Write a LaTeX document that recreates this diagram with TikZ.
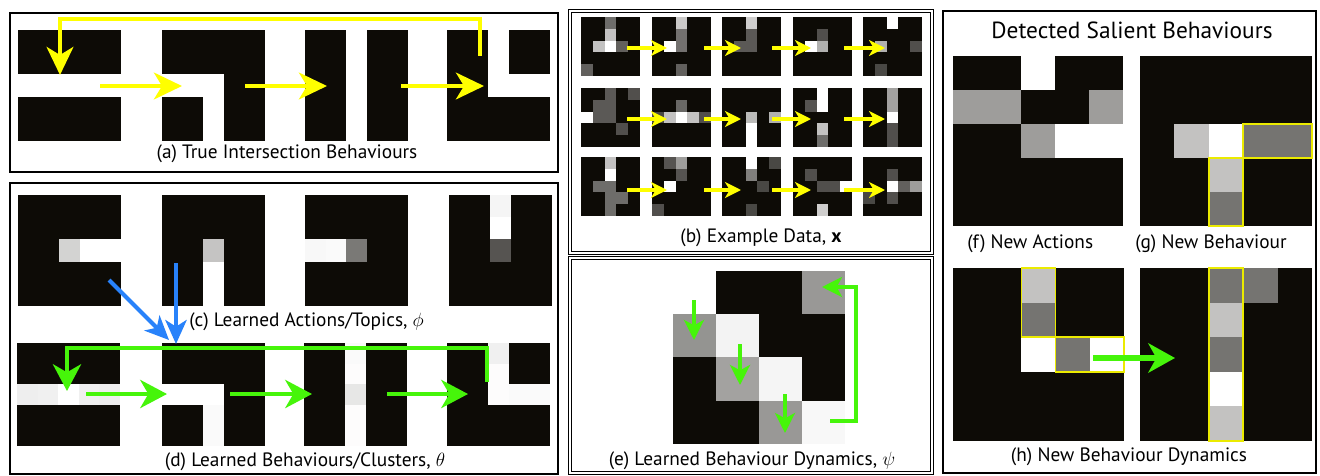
\documentclass[tikz,border=0pt]{standalone}
\usepackage{fontspec}
\setmainfont{PT Sans}
\usetikzlibrary{arrows.meta}
\definecolor{pixblack}{RGB}{13,11,6}
\definecolor{ylw}{RGB}{255,255,0}
\definecolor{grn}{RGB}{70,245,10}
\definecolor{blu}{RGB}{40,130,250}
\definecolor{yb}{RGB}{235,235,0}
% #1 x0, #2 y0, #3 cell w, #4 cell h, #5 cols, #6 rows, #7 list col/row/percent-white
\newcommand{\pixgrid}[7]{%
  \fill[pixblack] (#1,#2) rectangle ++({#5*#3},{#6*#4});
  \foreach \c/\r/\g in {#7}{\fill[white!\g!pixblack] ({#1+\c*#3},{#2+\r*#4}) rectangle ++(#3,#4);}
}
\begin{document}
\begin{tikzpicture}[x=0.75pt,y=-0.75pt,
  panel/.style={draw=black,line width=1.6pt},
  dpanel/.style={draw=black,double=white,double distance=1.3pt,line width=0.8pt},
  capt/.style={font=\fontsize{14.5}{17}\selectfont,inner sep=0pt},
  ttl/.style={font=\fontsize{17.5}{20}\selectfont,inner sep=0pt},
  yloop/.style={draw=ylw,line width=3.2pt,-{Stealth[length=21pt,width=20pt,inset=6pt]}},
  ysmall/.style={draw=ylw,line width=2.6pt,-{Stealth[length=12pt,width=12pt,inset=3.5pt]}},
  gbig/.style={draw=grn,line width=3.6pt,-{Stealth[length=20pt,width=21pt,inset=6pt]}},
  gmid/.style={draw=grn,line width=2.6pt,-{Stealth[length=15pt,width=15pt,inset=4pt]}},
  barrow/.style={draw=blu,line width=3pt,-{Stealth[length=18pt,width=16pt,inset=5pt]}},
  ybox/.style={draw=yb,line width=1.2pt}]
\fill[white] (0,0) rectangle (1320,475);
\useasboundingbox (0,0) rectangle (1320,475);

% ---------- panel frames ----------
\draw[panel] (10,13) rectangle (558,172);
\draw[panel] (10,183) rectangle (558,474);
\draw[dpanel] (570,11) rectangle (932,253);
\draw[dpanel] (570,258) rectangle (932,473);
\draw[panel] (943,11) rectangle (1316,473);

% ---------- (a) true intersection behaviours ----------
\pixgrid{18}{30}{20.6}{22.2}{5}{5}{0/2/100,1/2/100,2/2/100,3/2/100,4/2/100}
\pixgrid{162}{30}{20.6}{22.2}{5}{5}{0/2/100,1/2/100,2/2/100,2/3/100,2/4/100}
\pixgrid{305}{30}{20.6}{22.2}{5}{5}{2/0/100,2/1/100,2/2/100,2/3/100,2/4/100}
\pixgrid{447}{30}{20.6}{22.2}{5}{5}{2/0/100,2/1/100,2/2/100,3/2/100,4/2/100}
\coordinate (aL1) at (480,56);
\coordinate (aL2) at (480,19);
\coordinate (aL3) at (60,19);
\coordinate (aL4) at (60,75);
\draw[yloop] (aL1) -- (aL2) -- (aL3) -- (aL4);
\coordinate (a1s) at (100,86); \coordinate (a1e) at (182,86);
\coordinate (a2s) at (245,86); \coordinate (a2e) at (327,86);
\coordinate (a3s) at (401,86); \coordinate (a3e) at (484,86);
\draw[yloop] (a1s) -- (a1e);
\draw[yloop] (a2s) -- (a2e);
\draw[yloop] (a3s) -- (a3e);
\node[capt] (capa) at (287,154) {(a) True Intersection Behaviours};

% ---------- (c) learned actions ----------
\pixgrid{18}{195}{20.6}{22.2}{5}{5}{2/2/82,3/2/100,4/2/100}
\pixgrid{162}{195}{20.6}{22.2}{5}{5}{2/2/76,2/3/100,2/4/100}
\pixgrid{305}{195}{20.6}{22.2}{5}{5}{0/2/97,1/2/98,2/2/45}
\pixgrid{449}{195}{20.6}{22.2}{5}{5}{2/0/96,2/1/100,2/2/30}
\node[capt,anchor=west] (capc) at (189,322) {(c) Learned Actions/Topics, $\phi$};

% ---------- (d) learned behaviours ----------
\pixgrid{17}{343}{20.6}{20.6}{5}{5}{0/2/93,1/2/94,2/2/100,3/2/94,4/2/93}
\pixgrid{162}{343}{20.6}{20.6}{5}{5}{0/2/100,1/2/100,2/2/100,2/3/98,2/4/98}
\pixgrid{304}{343}{20.6}{20.6}{5}{5}{2/0/98,2/1/99,2/2/90,2/3/99,2/4/99}
\pixgrid{447}{343}{20.6}{20.6}{5}{5}{2/0/94,2/1/99,2/2/99,3/2/98,4/2/98}
\coordinate (dL1) at (487,382);
\coordinate (dL2) at (487,348);
\coordinate (dL3) at (67,348);
\coordinate (dL4) at (67,391);
\draw[gbig] (dL1) -- (dL2) -- (dL3) -- (dL4);
\coordinate (d1s) at (86,394); \coordinate (d1e) at (167,394);
\coordinate (d2s) at (230,394); \coordinate (d2e) at (312,394);
\coordinate (d3s) at (387,394); \coordinate (d3e) at (468,394);
\draw[gbig] (d1s) -- (d1e);
\draw[gbig] (d2s) -- (d2e);
\draw[gbig] (d3s) -- (d3e);
\node[capt] (capd) at (305,462) {(d) Learned Behaviours/Clusters, $\theta$};

% blue arrows from actions to behaviour
\coordinate (bl1s) at (109,280); \coordinate (bl1e) at (169,340);
\coordinate (bl2s) at (176,263); \coordinate (bl2e) at (176,344);
\draw[barrow] (bl1s) -- (bl1e);
\draw[barrow] (bl2s) -- (bl2e);

% ---------- (b) example data ----------
\pixgrid{581}{17}{11.8}{11.8}{5}{5}{2/0/40,2/1/75,1/2/75,2/2/100,3/2/35,0/4/35}
\pixgrid{652}{17}{11.8}{11.8}{5}{5}{2/0/78,2/1/42,1/2/100,2/2/42,2/4/35}
\pixgrid{722}{17}{11.8}{11.8}{5}{5}{2/0/80,2/1/32,1/2/32,2/2/32}
\pixgrid{793}{17}{11.8}{11.8}{5}{5}{2/1/28,1/2/100,2/2/68}
\pixgrid{863}{17}{11.8}{11.8}{5}{5}{2/0/100,1/2/68,4/2/28,1/4/25}
\pixgrid{581}{88}{11.8}{11.8}{5}{5}{2/0/32,4/0/28,1/1/32,2/1/32,0/2/100,1/2/32,2/2/32,3/3/28}
\pixgrid{652}{88}{11.8}{11.8}{5}{5}{2/1/38,0/2/25,1/2/75,2/2/100,3/2/75,4/2/28}
\pixgrid{722}{88}{11.8}{11.8}{5}{5}{2/2/72,4/2/68,2/3/100,2/4/100}
\pixgrid{793}{88}{11.8}{11.8}{5}{5}{2/0/100,2/1/100,1/1/30,2/3/75,2/4/40}
\pixgrid{863}{88}{11.8}{11.8}{5}{5}{2/0/62,2/1/62,2/2/100,2/3/28,2/4/28}
\pixgrid{581}{157}{11.8}{11.8}{5}{5}{2/0/75,2/1/100,1/2/40,2/2/40,2/3/40,3/3/40,2/4/40}
\pixgrid{652}{157}{11.8}{11.8}{5}{5}{1/0/30,2/0/60,2/1/30,1/2/100,0/4/28}
\pixgrid{722}{157}{11.8}{11.8}{5}{5}{2/0/100,4/0/25,2/1/48,3/2/25,2/4/25}
\pixgrid{793}{157}{11.8}{11.8}{5}{5}{1/1/28,2/2/28,3/2/28,4/2/100,2/4/80}
\pixgrid{863}{157}{11.8}{11.8}{5}{5}{2/1/28,2/2/100,3/2/35,4/2/60,0/3/25,2/3/28}
\foreach \yy [count=\i] in {48,119,190}{
  \coordinate (b\i s1) at (627,\yy); \coordinate (b\i e1) at (667,\yy);
  \coordinate (b\i s2) at (704,\yy); \coordinate (b\i e2) at (741,\yy);
  \coordinate (b\i s3) at (772,\yy); \coordinate (b\i e3) at (811,\yy);
  \coordinate (b\i s4) at (844,\yy); \coordinate (b\i e4) at (885,\yy);
  \foreach \k in {1,2,3,4}{\draw[ysmall] (b\i s\k) -- (b\i e\k);}
}
\node[capt] (capb) at (761,238) {(b) Example Data, \textbf{x}};

% ---------- (e) behaviour dynamics ----------
\pixgrid{673}{271}{43}{43.2}{4}{4}{0/0/100,3/0/58,0/1/56,1/1/95,1/2/62,2/2/96,2/3/58,3/3/97}
\coordinate (e1s) at (694,300); \coordinate (e1e) at (694,340);
\coordinate (e2s) at (740,344); \coordinate (e2e) at (740,385);
\coordinate (e3s) at (785,394); \coordinate (e3e) at (785,433);
\draw[gmid] (e1s) -- (e1e);
\draw[gmid] (e2s) -- (e2e);
\draw[gmid] (e3s) -- (e3e);
\coordinate (eL1) at (830,421);
\coordinate (eL2) at (856,421);
\coordinate (eL3) at (856,287);
\coordinate (eL4) at (822,287);
\draw[gmid] (eL1) -- (eL2) -- (eL3) -- (eL4);
\node[capt] (cape) at (752,461) {(e) Learned Behaviour Dynamics, $\psi$};

% ---------- (f)(g)(h) salient behaviours ----------
\node[ttl] (title) at (1132,30) {Detected Salient Behaviours};
\pixgrid{953}{56}{34}{34}{5}{5}{2/0/100,0/1/60,1/1/60,4/1/60,2/2/60,3/2/100,4/2/100}
\pixgrid{1140}{56}{34.4}{34}{5}{5}{1/2/75,2/2/100,3/2/43,4/2/43,2/3/75,2/4/43}
\draw[ybox] ({1140+3*34.4},{56+2*34}) rectangle ++({2*34.4},34);
\draw[ybox] ({1140+2*34.4},{56+3*34}) rectangle ++(34.4,{2*34});
\node[capt,anchor=west] (capf) at (967,244) {(f) New Actions};
\node[capt,anchor=west] (capg) at (1135,244) {(g) New Behaviour};

\pixgrid{953}{268}{34.2}{34.6}{5}{5}{2/0/75,2/1/43,2/2/100,3/2/43,4/2/100}
\draw[ybox] ({953+2*34.2},268) rectangle ++(34.2,{2*34.6});
\draw[ybox] ({953+3*34.2},{268+2*34.6}) rectangle ++({2*34.2},34.6);
\pixgrid{1140}{268}{34.4}{34.6}{5}{5}{2/0/43,3/0/43,2/1/75,2/2/43,2/3/100,2/4/75}
\draw[ybox] ({1140+2*34.4},268) rectangle ++(34.4,{5*34.6});
\coordinate (hs) at (1093,358); \coordinate (he) at (1175,358);
\draw[draw=grn,line width=3.8pt,-{Stealth[length=20pt,width=22pt,inset=6pt]}] (hs) -- (he);
\node[capt] (caph) at (1129,457) {(h) New Behaviour Dynamics};
\end{tikzpicture}
\end{document}
